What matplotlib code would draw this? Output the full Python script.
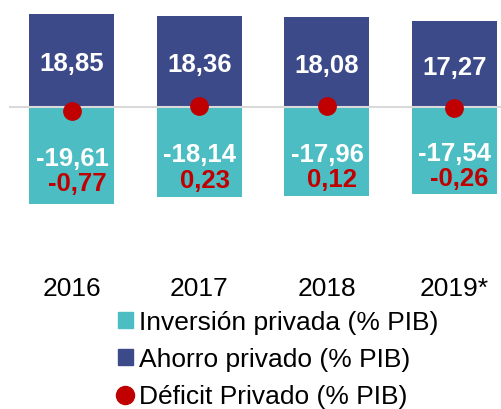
import matplotlib.pyplot as plt
from matplotlib.patches import Patch
from matplotlib.lines import Line2D
import numpy as np

years = ['2016', '2017', '2018', '2019*']
ahorro = [18.85, 18.36, 18.08, 17.27]
inversion = [-19.61, -18.14, -17.96, -17.54]
deficit = [-0.77, 0.23, 0.12, -0.26]

c_inv = '#4BBDC3'
c_aho = '#3D4A8A'
c_def = '#C00000'

plt.rcParams['font.family'] = ['Liberation Sans', 'DejaVu Sans']

fig = plt.figure(figsize=(5.02, 4.10), dpi=100)
W, H = 502, 410
ax = fig.add_axes([9 / W, (H - 230) / H, 493 / W, 225 / H])

x = np.arange(len(years))
ax.bar(x, ahorro, width=0.667, color=c_aho, zorder=2)
ax.bar(x, inversion, width=0.667, color=c_inv, zorder=2)
ax.axhline(0, color='#D9D9D9', lw=1.5, zorder=3)
ax.plot(x, deficit, 'o', color=c_def, ms=12.5, zorder=4)

for i in range(len(years)):
    ax.text(x[i], ahorro[i] / 2, f'{ahorro[i]:.2f}'.replace('.', ','),
            ha='center', va='center_baseline', color='white', fontsize=18.5, fontweight='bold')
    ax.text(x[i], inversion[i] / 2, f'{inversion[i]:.2f}'.replace('.', ','),
            ha='center', va='center_baseline', color='white', fontsize=18.5, fontweight='bold')
    ax.text(x[i] + 0.04, inversion[i] / 2 - 5.1, f'{deficit[i]:.2f}'.replace('.', ','),
            ha='center', va='center_baseline', color=c_def, fontsize=18.5, fontweight='bold')

ax.set_xlim(-0.494, 3.373)
ax.set_ylim(-24.65, 20.8)
ax.set_xticks(x)
ax.set_xticklabels(years, fontsize=19)
ax.tick_params(axis='x', length=0, pad=34)
ax.set_yticks([])
for s in ax.spines.values():
    s.set_visible(False)

handles = [Patch(color=c_inv), Patch(color=c_aho),
           Line2D([], [], marker='o', ls='', color=c_def, ms=13)]
labels = ['Inversión privada (% PIB)', 'Ahorro privado (% PIB)', 'Déficit Privado (% PIB)']
fig.legend(handles, labels, loc='upper left', bbox_to_anchor=(118 / W, (H - 311) / H),
           frameon=False, fontsize=19, handlelength=0.55, handleheight=0.55,
           handletextpad=0.25, labelspacing=0.5, borderpad=0, borderaxespad=0)

fig.savefig('out.png', dpi=100)
